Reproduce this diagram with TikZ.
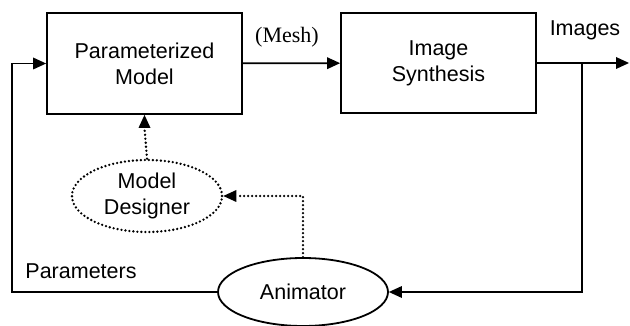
\documentclass[tikz,border=0pt]{standalone}
\usepackage{fontspec}
\setmainfont{Liberation Sans}
\newfontfamily\serifpart{Liberation Serif}
\usetikzlibrary{arrows.meta,shapes.geometric}

\begin{document}
\begin{tikzpicture}[x=1pt,y=-1pt,line width=1.8pt,>={Triangle[length=13pt,width=12pt,line width=0pt]},
        dots/.style={dash pattern=on 0pt off 4pt,line cap=round,line width=2.6pt}]
        \useasboundingbox (0,0) rectangle (630,326);
        \begin{scope}[every node/.style={font=\fontsize{21.5}{26}\selectfont,align=center,inner sep=0pt}]
            \node[draw,minimum width=195pt,minimum height=101pt] (model) at (144.5,63.5) {Parameterized\\Model};
            \node[draw,minimum width=195pt,minimum height=100pt] (synth) at (438.5,63) {Image\\Synthesis};

            \node[draw,ellipse,dots,minimum width=150pt,minimum height=72pt] (designer) at (147,196) {Model\\Designer};
            \node[draw,ellipse,minimum width=170pt,minimum height=68pt] (anim) at (303,292) {Animator};

            \node[anchor=base,font=\serifpart\fontsize{22}{26}\selectfont] (mesh) at (287,43) {(Mesh)};
            \node[anchor=base] (images) at (585,36) {Images};
            \node[anchor=base] (params) at (81,279) {Parameters};

            \coordinate (split) at (582,63);
            \coordinate (out) at (629,63);
            \coordinate (loopL) at (12,292);
        \end{scope}
        \path (model.south) ++(0,13) coordinate (tipA);
        \path (designer.east) ++(13,0) coordinate (tipB);
        \begin{scope}[every edge/.style={draw,line width=1.8pt}]
            \path [->] (model) edge node {} (synth);
            \path [->] (synth.east) edge node {} (out);
            \draw [->] (split) |- (anim.east);
            \draw [->] (anim.west) -- (loopL) |- (model.west);
            % dotted links, heads drawn solid
            \draw [->] (tipA) -- (model.south);
            \draw [->] (tipB) -- (designer.east);
        \end{scope}
        \begin{scope}[dots]
            \draw (designer.north) -- (tipA);
            \draw (anim.north) |- (tipB);
        \end{scope}
    \end{tikzpicture}
\end{document}
